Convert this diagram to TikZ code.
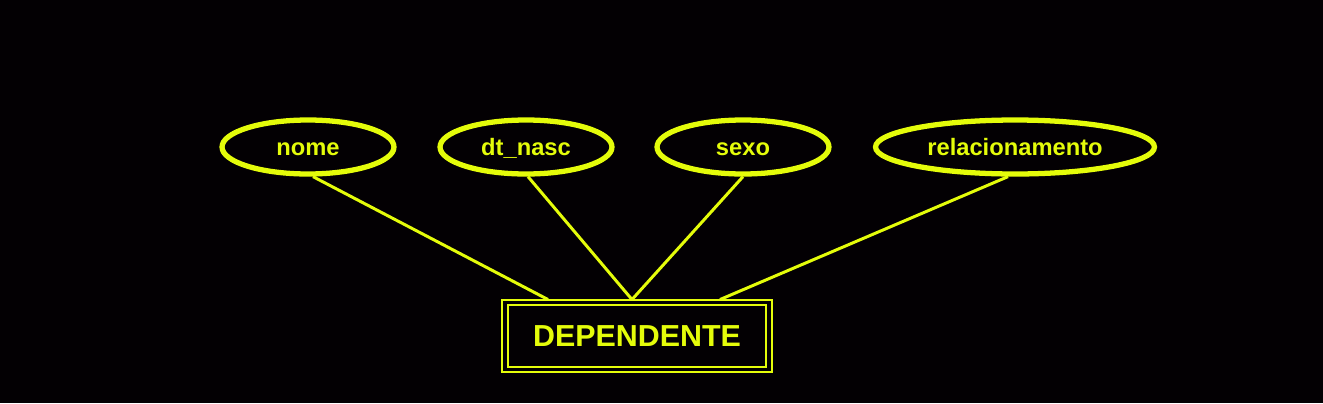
\documentclass[tikz,border=0pt]{standalone}
\usepackage{fontspec}
\setmainfont{Liberation Sans}
\usepackage{tikz}
\usetikzlibrary{positioning,calc,shapes.geometric}
\usepackage{xcolor}
\definecolor{bg}{RGB}{3,0,3}
\definecolor{lime}{RGB}{228,252,10}
\tikzset{
  attr/.style={ellipse,draw=lime,line width=3pt,minimum height=1.08cm,
    inner sep=0pt,text height=0.32cm,text depth=0pt,
    font=\fontsize{13.5}{15}\selectfont\bfseries,text=lime},
  ent/.style={rectangle,draw=lime,double=bg,double distance=0.07cm,line width=1.1pt,
    minimum width=5.28cm,minimum height=1.34cm,inner sep=0pt,
    text height=0.4cm,text depth=0pt,
    font=\fontsize{17.3}{20}\selectfont\bfseries,text=lime},
  lnk/.style={draw=lime,line width=1.7pt},
}
\begin{document}
\begin{tikzpicture}[x=0.02cm,y=-0.02cm]
\fill[bg] (0,0) rectangle (1323,403);
\useasboundingbox (0,0) rectangle (1323,403);
% attributes
\node[attr,minimum width=3.44cm] (nome) at (308,147) {nome};
\node[attr,minimum width=3.44cm] (dtnasc) at (526,147) {dt\_nasc};
\node[attr,minimum width=3.44cm] (sexo) at (743,147) {sexo};
\node[attr,minimum width=5.58cm] (rel) at (1015,147) {relacionamento};
% entity
\node[ent] (dep) at (637,336) {DEPENDENTE};
\coordinate (d1) at ($(dep.north)+(-89,-2)$);
\coordinate (d2) at ($(dep.north)+(-5,-2)$);
\coordinate (d3) at ($(dep.north)+(83,-2)$);
\draw[lnk] (nome.south) ++(5,0) coordinate (n1) -- (d1);
\draw[lnk] (dtnasc.south) ++(2,0) coordinate (n2) -- (d2);
\draw[lnk] (sexo.south) -- (d2);
\draw[lnk] (rel.south) ++(-7,0) coordinate (n4) -- (d3);
\end{tikzpicture}
\end{document}
